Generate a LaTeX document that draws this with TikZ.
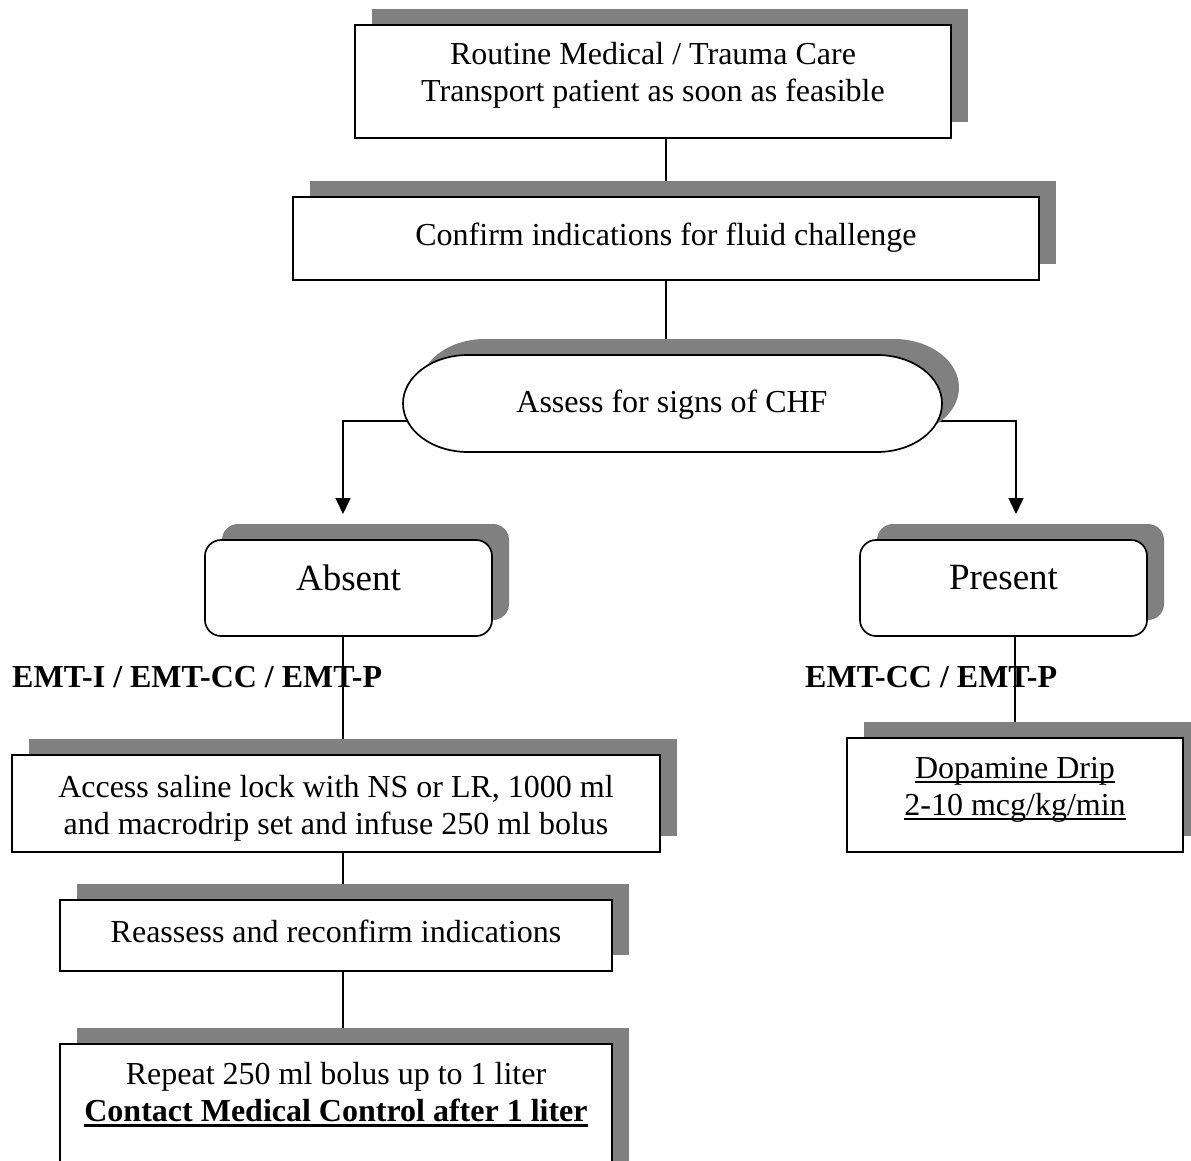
\documentclass[tikz,border=0pt]{standalone}
\usepackage{fontspec}
\setmainfont{Liberation Serif}
\usetikzlibrary{shadows,arrows.meta,backgrounds}
\newcommand\myul[1]{\setbox0\hbox{#1}\rlap{\raisebox{-4.5pt}{\rule{\wd0}{1.8pt}}}\box0}
\newcommand\myulb[1]{\setbox0\hbox{#1}\rlap{\raisebox{-6pt}{\rule{\wd0}{3pt}}}\box0}
\tikzset{
  shad/.style={drop shadow={shadow xshift=17pt, shadow yshift=16pt, fill=black!50, opacity=1}},
  box/.style={draw=black, line width=1.7pt, fill=white, shad, inner sep=0pt},
  rbox/.style={box, rounded corners=16pt},
  txt/.style={font=\fontsize{32}{37}\selectfont, align=center, inner sep=0pt},
  big/.style={font=\fontsize{37}{42}\selectfont, inner sep=0pt},
  lbl/.style={font=\fontsize{32}{37}\selectfont\bfseries, inner sep=0pt, anchor=west},
  conn/.style={line width=1.5pt, draw=black},
  arr/.style={conn, -{Triangle[length=16pt,width=15pt]}},
}
\begin{document}
\begin{tikzpicture}[x=1pt,y=-1pt]
\useasboundingbox (0,0) rectangle (1191,1161);
\clip (0,0) rectangle (1191,1161);

% boxes
\node[box, minimum width=596pt, minimum height=113pt] (top) at (653,81.5) {};
\node[txt] (topT) at (653,75.5) {Routine Medical / Trauma Care\\Transport patient as soon as feasible};

\node[box, minimum width=746pt, minimum height=83pt] (conf) at (666,238.5) {};
\node[txt] (confT) at (666,238) {Confirm indications for fluid challenge};

\node[inner sep=0pt, minimum width=539pt, minimum height=97pt] (chf) at (672.5,403.5) {};
\draw[draw=black, line width=1.7pt, fill=white, shad]
  (468,355) -- (877,355)
  arc[start angle=90, end angle=-90, x radius=65pt, y radius=48.5pt]
  -- (468,452)
  arc[start angle=270, end angle=90, x radius=65pt, y radius=48.5pt]
  -- cycle;
\node[txt] (chfT) at (672,405) {Assess for signs of CHF};

\node[rbox, minimum width=287pt, minimum height=96pt] (absent) at (348.5,588) {};
\node[big] (absentT) at (348.5,578) {Absent};

\node[rbox, minimum width=287pt, minimum height=96pt] (present) at (1003.5,588) {};
\node[big] (presentT) at (1003.5,578) {Present};

\node[lbl] (lab1) at (12,677) {EMT-I / EMT-CC / EMT-P};
\node[lbl] (lab2) at (805,677) {EMT-CC / EMT-P};

\node[box, minimum width=648pt, minimum height=97pt] (access) at (336,803.5) {};
\node[txt] (accessT) at (336,808) {Access saline lock with NS or LR, 1000 ml\\and macrodrip set and infuse 250 ml bolus};

\node[box, minimum width=552pt, minimum height=71pt] (reass) at (336,935.5) {};
\node[txt] (reassT) at (336,931) {Reassess and reconfirm indications};

\node[box, minimum width=552pt, minimum height=140pt] (rep) at (336,1114) {};
\node[txt] (repT) at (336,1094.5) {Repeat 250 ml bolus up to 1 liter\\\textbf{\myulb{Contact Medical Control after 1 liter}}};

\node[box, minimum width=336pt, minimum height=114pt] (dopa) at (1015,795) {};
\node[txt] (dopaT) at (1015,790) {\myul{Dopamine Drip}\\\myul{2-10 mcg/kg/min}};

\coordinate (chfL) at (407,421);
\coordinate (chfR) at (937,421);
\coordinate (aL) at (343,514);
\coordinate (aR) at (1016,514);

\begin{scope}[on background layer]
\fill[white] (0,0) rectangle (1191,1161);
\draw[conn] (conf.north) -- (conf.north |- top.south);
\draw[conn] (conf.south) -- (conf.south |- chf.north);
\draw[arr] (chfL) -| (aL);
\draw[arr] (chfR) -| (aR);
\draw[conn] ([xshift=-5.5pt]absent.south) -- ([xshift=-5.5pt]absent.south |- access.north);
\draw[conn] ([xshift=7pt]access.south) -- ([xshift=7pt]access.south |- reass.north);
\draw[conn] ([xshift=7pt]reass.south) -- ([xshift=7pt]reass.south |- rep.north);
\draw[conn] (dopa.north) -- (dopa.north |- present.south);
\end{scope}
\end{tikzpicture}
\end{document}
